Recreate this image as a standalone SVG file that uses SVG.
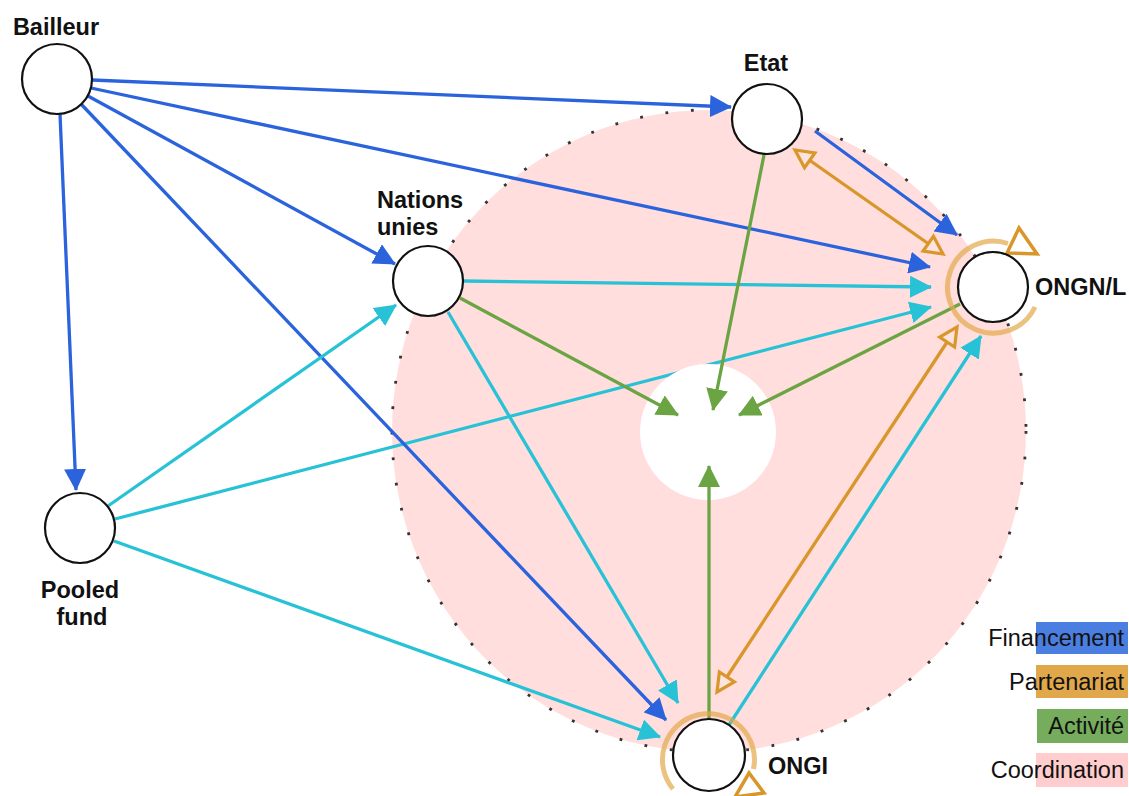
<svg xmlns="http://www.w3.org/2000/svg" width="1129" height="796" viewBox="0 0 1129 796">
<style>
.node{fill:#fff;stroke:#111;stroke-width:2.2}
.lbl{font-family:"Liberation Sans",Arial,sans-serif;font-weight:bold;font-size:23.5px;fill:#111}
.leg{font-family:"Liberation Sans",Arial,sans-serif;font-size:23.5px;fill:#111;text-anchor:end}
.fin{stroke:#2b63dd;stroke-width:3.3;fill:none;marker-end:url(#aBlue)}
.cya{stroke:#27c2d6;stroke-width:3.3;fill:none;marker-end:url(#aCyan)}
.act{stroke:#6aa443;stroke-width:3.3;fill:none;marker-end:url(#aGreen)}
.par{stroke:#d9962a;stroke-width:3.3;fill:none;marker-end:url(#aOpen);marker-start:url(#aOpen)}
.loop{stroke:#e2a84a;stroke-opacity:0.7;stroke-width:5;fill:none}
.tri{stroke:#d9962a;stroke-width:3.5;fill:none;stroke-linejoin:miter}
</style>
<defs>
<marker id="aBlue" markerUnits="userSpaceOnUse" viewBox="0 0 22 22" refX="21" refY="11" markerWidth="22" markerHeight="22" orient="auto"><path d="M0,0 L22,11 L0,22 z" fill="#2b63dd"/></marker>
<marker id="aCyan" markerUnits="userSpaceOnUse" viewBox="0 0 22 22" refX="21" refY="11" markerWidth="22" markerHeight="22" orient="auto"><path d="M0,0 L22,11 L0,22 z" fill="#27c2d6"/></marker>
<marker id="aGreen" markerUnits="userSpaceOnUse" viewBox="0 0 22 22" refX="21" refY="11" markerWidth="22" markerHeight="22" orient="auto"><path d="M0,0 L22,11 L0,22 z" fill="#6aa443"/></marker>
<marker id="aOpen" markerUnits="userSpaceOnUse" viewBox="0 0 24 24" refX="21" refY="12" markerWidth="24" markerHeight="24" orient="auto-start-reverse"><path d="M3,3 L21,12 L3,21 z" fill="#fde3e0" stroke="#d9962a" stroke-width="3.2"/></marker>
</defs>

<g id="coordination">
<ellipse cx="709" cy="431" rx="317" ry="321" fill="#ffdedd"/>
<path d="M1026,431 A317,321 0 1 1 392,431 A317,321 0 1 1 1026,431" fill="none" stroke="#333" stroke-width="2.8" stroke-dasharray="2.8 22.8"/>
</g>

<g id="connectors-back">
<line class="cya" x1="115" y1="519" x2="931" y2="307"/>
</g>

<g id="node-centre">
<circle cx="708" cy="432" r="68" fill="#fff"/>
</g>

<g id="connectors">
<line class="fin" x1="92" y1="80" x2="731" y2="107"/>
<line class="fin" x1="91" y1="88" x2="930" y2="267"/>
<line class="fin" x1="88" y1="96" x2="395" y2="264"/>
<line class="fin" x1="81" y1="104" x2="666" y2="720"/>
<line class="fin" x1="60" y1="114" x2="76" y2="490"/>
<line class="fin" x1="815" y1="131" x2="957" y2="235"/>
<line class="cya" x1="463" y1="281" x2="931" y2="287"/>
<line class="cya" x1="108" y1="506" x2="396" y2="305"/>
<line class="cya" x1="114" y1="541" x2="660" y2="737"/>
<line class="cya" x1="448" y1="312" x2="678" y2="703"/>
<line class="cya" x1="729" y1="725" x2="981" y2="336"/>
<line class="act" x1="764" y1="155" x2="713" y2="410"/>
<line class="act" x1="460" y1="298" x2="678" y2="415"/>
<line class="act" x1="960" y1="304" x2="739" y2="415"/>
<line class="act" x1="709" y1="720" x2="709" y2="466"/>
<line class="par" x1="795" y1="150" x2="943" y2="254"/>
<line class="par" x1="717" y1="692" x2="957" y2="327"/>
<path class="loop" d="M1008,243.5 A46,46 0 1 0 1035,307"/>
<polygon class="tri" points="1007,253 1037,254 1019,228"/>
<path class="loop" d="M673,789 A46,46 0 1 1 753.5,769"/>
<polygon class="tri" points="735,797 749,773 764,793"/>
</g>

<g id="node-bailleur">
<circle class="node" cx="57" cy="79" r="35"/>
<text class="lbl" x="56" y="35" text-anchor="middle">Bailleur</text>
</g>
<g id="node-etat">
<circle class="node" cx="767" cy="119" r="35"/>
<text class="lbl" x="766" y="71" text-anchor="middle">Etat</text>
</g>
<g id="node-nations-unies">
<circle class="node" cx="428" cy="281" r="35"/>
<text class="lbl" x="377" y="208">Nations</text>
<text class="lbl" x="377" y="235">unies</text>
</g>
<g id="node-pooled-fund">
<circle class="node" cx="80" cy="528" r="35"/>
<text class="lbl" x="80" y="598" text-anchor="middle">Pooled</text>
<text class="lbl" x="82" y="625" text-anchor="middle">fund</text>
</g>
<g id="node-ongnl">
<circle class="node" cx="993" cy="287" r="35"/>
<text class="lbl" x="1035" y="295">ONGN/L</text>
</g>
<g id="node-ongi">
<circle class="node" cx="709" cy="755" r="36"/>
<text class="lbl" x="768" y="774">ONGI</text>
</g>

<g id="legend">
<rect x="1036" y="622" width="92" height="32" fill="#4a7ee0"/>
<rect x="1036" y="665" width="92" height="33" fill="#e0a84b"/>
<rect x="1037" y="709" width="91" height="34" fill="#76ad5c"/>
<rect x="1036" y="753" width="92" height="34" fill="#ffcdcd"/>
<text class="leg" x="1124" y="646">Financement</text>
<text class="leg" x="1124" y="690">Partenariat</text>
<text class="leg" x="1124" y="734">Activité</text>
<text class="leg" x="1124" y="778">Coordination</text>
</g>
</svg>
